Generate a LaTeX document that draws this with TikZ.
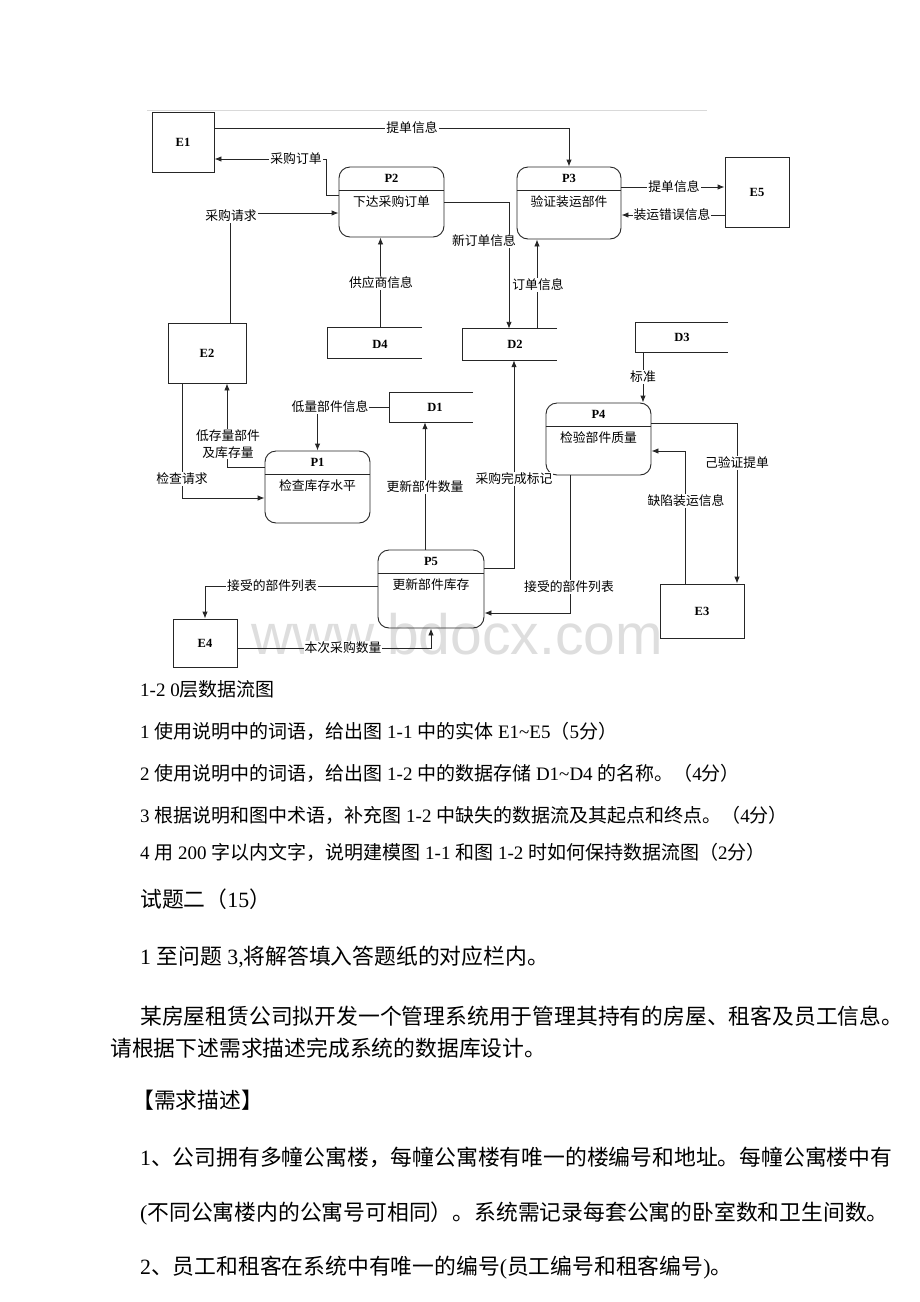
\documentclass[tikz,border=0pt]{standalone}
\usepackage{fontspec}
\setmainfont{Liberation Serif}
\newfontfamily\cjkfont{Noto Sans CJK SC}
\newfontfamily\wmfont{Liberation Sans}
\usetikzlibrary{arrows.meta,calc}
\XeTeXinterchartokenstate=1
\newXeTeXintercharclass\cjkclass
\count255="3000
\loop\XeTeXcharclass\count255=\cjkclass \advance\count255 by 1 \ifnum\count255<"3040 \repeat
\count255="4E00
\loop\XeTeXcharclass\count255=\cjkclass \advance\count255 by 1 \ifnum\count255<"A000 \repeat
\count255="FF00
\loop\XeTeXcharclass\count255=\cjkclass \advance\count255 by 1 \ifnum\count255<"FFF0 \repeat
\XeTeXinterchartoks 0 \cjkclass = {\cjkfont}
\XeTeXinterchartoks 4095 \cjkclass = {\cjkfont}
\XeTeXinterchartoks \cjkclass 0 = {\rmfamily}
\XeTeXinterchartoks \cjkclass 4095 = {\rmfamily}
\newcommand\entfont{\fontsize{12.5}{14}\selectfont\bfseries}
\newcommand\lblfont{\fontsize{12.8}{17}\selectfont}
\newcommand\bodyfont{\fontsize{19}{23}\selectfont}
\newcommand\bigbodyfont{\fontsize{21.8}{26}\selectfont}
\tikzset{
  line/.style={draw=black!85, line width=0.9pt},
  flow/.style={line, -{Latex[length=7pt,width=5.5pt]}},
  ent/.style={draw=black!85, line width=0.9pt, font=\entfont, inner sep=0pt},
  entlbl/.style={font=\entfont, inner sep=0pt},
  proc/.style={draw=black!85, line width=0.9pt, rounded corners=11pt, inner sep=0pt},
  ptitle/.style={font=\entfont, inner sep=0pt},
  pdesc/.style={font=\lblfont, inner sep=0pt},
  store/.style={inner sep=0pt},
  lbl/.style={fill=white, inner sep=1pt, font=\lblfont},
  body/.style={anchor=west, inner sep=0pt, font=\bodyfont},
  bigbody/.style={anchor=west, inner sep=0pt, font=\bigbodyfont},
  wm/.style={font=\wmfont\fontsize{57}{57}\selectfont, text=black!13, inner sep=0pt},
}
\newcommand\mkproc[6]{%
  \node[proc, minimum width=#3, minimum height=#4] (#1) at #2 {};
  \node[ptitle] (#1t) at ([yshift=-12pt]#1.north) {#5};
  \node[pdesc] (#1d) at ([yshift=-35pt]#1.north) {#6};
  \draw[line] ([yshift=-23.5pt]#1.north west) -- ([yshift=-23.5pt]#1.north east);
}
\newcommand\mkstore[6]{%
  \node[store, minimum width=#3, minimum height=#4] (#1) at #2 {};
  \node[entlbl] (#1l) at #5 {#6};
  \draw[line] (#1.north east) -- (#1.north west) -- (#1.south west) -- (#1.south east);
}
\begin{document}
\begin{tikzpicture}[x=1pt,y=-1pt]
\useasboundingbox (0,0) rectangle (920,1302);
\fill[white] (0,0) rectangle (920,1302);
\node[wm] (wm) at (457,634) {www.bdocx.com};
\draw[black!15, line width=0.8pt] (147,110) -- (707,110);

% external entities
\node[ent, minimum width=62pt, minimum height=60pt] (E1) at (183,142) {E1};
\node[ent, minimum width=78pt, minimum height=60pt] (E2) at (207,353) {E2};
\node[ent, minimum width=84pt, minimum height=54pt] (E3) at (702,611) {E3};
\node[ent, minimum width=64pt, minimum height=48pt] (E4) at (205,643) {E4};
\node[ent, minimum width=64pt, minimum height=70pt] (E5) at (757,192) {E5};

% processes
\mkproc{P1}{(317.5,487)}{105pt}{72pt}{P1}{检查库存水平}
\mkproc{P2}{(391.5,202)}{105pt}{70pt}{P2}{下达采购订单}
\mkproc{P3}{(569,203)}{104pt}{72pt}{P3}{验证装运部件}
\mkproc{P4}{(598.5,439)}{105pt}{72pt}{P4}{检验部件质量}
\mkproc{P5}{(431,589)}{106pt}{78pt}{P5}{更新部件库存}

% data stores
\mkstore{D1}{(431.5,407.5)}{83pt}{29pt}{(435,407)}{D1}
\mkstore{D2}{(510,344.5)}{94pt}{31pt}{(515,344)}{D2}
\mkstore{D3}{(682,337.5)}{92pt}{29pt}{(682,337)}{D3}
\mkstore{D4}{(375,343)}{94pt}{30pt}{(380,344)}{D4}

% flows
\draw[flow] ([yshift=14pt]E1.east) -| (P3.north);
\coordinate (c2) at (326,159);
\draw[flow] ([yshift=7pt]P2.west) -| (c2) -- (c2 -| E1.east);
\draw[flow] ([xshift=23pt]E2.north) |- ([yshift=-11pt]P2.west);
\coordinate (a4) at ([xshift=5.5pt]D4.north);
\draw[flow] (a4) -- (a4 |- P2.south);
\draw[flow] (P2.east) -| ([xshift=-1pt]D2.north);
\coordinate (a6) at ([xshift=27pt]D2.north);
\draw[flow] (a6) -- (a6 |- P3.south);
\coordinate (a7) at ([yshift=16pt]P3.east);
\draw[flow] (a7) -- (a7 -| E5.west);
\coordinate (a8) at ([yshift=-12pt]P3.east);
\draw[flow] (a8 -| E5.west) -- (a8);
\draw[flow] (D1.west) -| (P1.north);
\draw[flow] ([yshift=20pt]P1.west) -| ([xshift=20pt]E2.south);
\draw[flow] ([xshift=-25pt]E2.south) |- ([yshift=-11pt]P1.west);
\coordinate (a12) at ([xshift=-6pt]P5.north);
\draw[flow] (a12) -- (a12 |- D1.south);
\draw[flow] ([yshift=21pt]P5.east) -| ([xshift=4pt]D2.south);
\coordinate (a14) at ([xshift=-39pt]D3.south);
\draw[flow] (a14) -- (a14 |- P4.north);
\draw[flow] ([yshift=16pt]P4.east) -| ([xshift=35pt]E3.north);
\draw[flow] ([xshift=-17pt]E3.north) |- ([yshift=-12pt]P4.east);
\draw[flow] ([xshift=-28pt]P4.south) |- ([yshift=-24pt]P5.east);
\draw[flow] ([yshift=3pt]P5.west) -| (E4.north);
\draw[flow] ([yshift=-5pt]E4.east) -| (P5.south);

% flow labels
\node[lbl] (l1) at (412,128) {提单信息};
\node[lbl] (l2) at (296,159) {采购订单};
\node[lbl] (l3) at (231,216) {采购请求};
\node[lbl] (l4) at (381,283) {供应商信息};
\node[lbl] (l5) at (484,241) {新订单信息};
\node[lbl] (l6) at (538,285) {订单信息};
\node[lbl] (l7) at (674,187) {提单信息};
\node[lbl] (l8) at (672,215) {装运错误信息};
\node[lbl] (l9) at (330,407) {低量部件信息};
\node[lbl, align=center] (l10) at (228,444) {低存量部件\\及库存量};
\node[lbl] (l11) at (182,479) {检查请求};
\node[lbl] (l12) at (425,487) {更新部件数量};
\node[lbl] (l13) at (514,479) {采购完成标记};
\node[lbl] (l14) at (643,377) {标准};
\node[lbl] (l15) at (737,463) {己验证提单};
\node[lbl] (l16) at (686,501) {缺陷装运信息};
\node[lbl] (l17) at (569,587) {接受的部件列表};
\node[lbl] (l18) at (272,586) {接受的部件列表};
\node[lbl] (l19) at (343,648) {本次采购数量};

% body text
\node[body] (t1) at (140,689) {1-2 0层数据流图};
\node[body] (t2) at (140,731) {1 使用说明中的词语，给出图 1-1 中的实体 E1\textasciitilde E5（5分）};
\node[body] (t3) at (140,773) {2 使用说明中的词语，给出图 1-2 中的数据存储 D1\textasciitilde D4 的名称。（4分）};
\node[body] (t4) at (140,815) {3 根据说明和图中术语，补充图 1-2 中缺失的数据流及其起点和终点。（4分）};
\node[body] (t5) at (140,852) {4 用 200 字以内文字，说明建模图 1-1 和图 1-2 时如何保持数据流图（2分）};
\node[bigbody] (t6) at (140,899) {试题二（15）};
\node[bigbody] (t7) at (140,957) {1 至问题 3,将解答填入答题纸的对应栏内。};
\node[bigbody] (t8) at (140,1016) {某房屋租赁公司拟开发一个管理系统用于管理其持有的房屋、租客及员工信息。};
\node[bigbody] (t9) at (110,1048) {请根据下述需求描述完成系统的数据库设计。};
\node[bigbody] (t10) at (132,1100) {【需求描述】};
\node[bigbody] (t11) at (140,1157) {1、公司拥有多幢公寓楼，每幢公寓楼有唯一的楼编号和地址。每幢公寓楼中有};
\node[bigbody] (t12) at (140,1213) {(不同公寓楼内的公寓号可相同）。系统需记录每套公寓的卧室数和卫生间数。};
\node[bigbody] (t13) at (140,1268) {2、员工和租客在系统中有唯一的编号(员工编号和租客编号)。};
\end{tikzpicture}
\end{document}
